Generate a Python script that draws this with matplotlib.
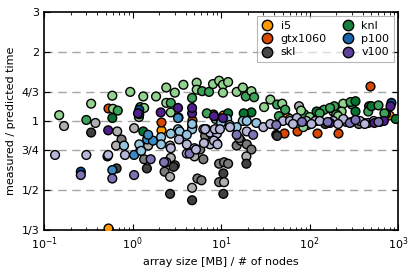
import matplotlib
matplotlib.use("Agg")
import matplotlib.pyplot as plt
from matplotlib.lines import Line2D
import numpy as np

# ---------------- data (array size [MB]/nodes, measured/predicted) ----------------
i5_x = [0.53, 2.08, 4.7, 8.0, 18.6, 55, 112, 200, 790, 3.3, 10.5]
i5_y = [0.34, 0.91, 0.95, 1.07, 1.06, 1.04, 1.01, 1.03, 1.06, 1.04, 1.06]

gtx_x = [0.53, 2.08, 4.7, 52, 72, 122, 207, 480]
gtx_y = [1.14, 0.99, 1.01, 0.89, 0.90, 0.89, 0.89, 1.42]

skl_x = [0.168, 0.38, 0.34, 0.67, 0.75, 0.65, 0.66, 1.04, 1.22, 1.35, 1.45, 1.5,
         2.3, 2.7, 3.0, 2.9, 2.65, 2.65, 5.0, 6.3, 5.4, 6.0, 4.7, 4.7,
         9.5, 10.8, 12.0, 10.6, 9.5, 10.8, 10.6, 15, 16.7, 19.5, 22, 19.3, 19.3,
         6.6, 8.9, 5.8, 42, 470, 730, 185, 410, 360, 225, 76, 2.65, 43, 16,
         95, 150, 260, 620]
skl_y = [0.95, 0.98, 0.89, 0.90, 0.83, 0.78, 0.62, 0.93, 0.74, 0.68, 0.62, 0.78,
         0.60, 0.69, 0.64, 0.63, 0.57, 0.48, 0.70, 0.68, 0.56, 0.55, 0.51, 0.45,
         0.65, 0.66, 0.65, 0.59, 0.54, 0.54, 0.48, 0.78, 0.82, 0.79, 0.75, 0.70, 0.65,
         0.86, 0.80, 0.75, 0.87, 1.16, 1.07, 1.10, 0.98, 0.97, 1.00, 1.16, 0.78, 0.86, 0.84,
         0.96, 0.97, 0.99, 0.99]
skl_shade = [0.42, 0.42, 0.8, 0.42, 0.6, 0.42, 0.8, 0.42, 0.42, 0.6, 0.8, 0.42,
             0.6, 0.42, 0.6, 0.8, 0.42, 0.8, 0.42, 0.6, 0.6, 0.6, 0.42, 0.8,
             0.6, 0.6, 0.6, 0.8, 0.6, 0.42, 0.8, 0.6, 0.42, 0.6, 0.6, 0.42, 0.8,
             0.6, 0.8, 0.6, 0.8, 0.8, 0.8, 0.42, 0.42, 0.6, 0.6, 0.42, 0.42, 0.8, 0.6,
             0.6, 0.8, 0.6, 0.6]

knl_x = [0.148, 0.30, 0.34, 0.59, 0.60, 0.68, 0.59, 0.94, 1.22, 1.32, 1.35, 1.32,
         1.18, 1.84, 2.4, 2.4, 2.7, 2.7, 3.0, 3.75, 4.7, 5.3, 5.3, 6.1, 7.3, 8.1,
         9.5, 10.5, 12.0, 10.5, 15, 17.6, 19, 22, 23.6, 22, 30.6, 36, 43, 49, 53,
         87, 80, 135, 146, 240, 300, 330, 230, 200, 460, 500, 600, 940, 290, 330,
         190, 170, 120, 210, 18, 12, 6.9, 85, 100, 130, 60, 45, 700]
knl_y = [1.06, 1.01, 1.19, 1.29, 1.13, 1.11, 1.03, 1.34, 1.15, 1.28, 1.14, 0.90,
         1.04, 1.28, 1.40, 1.20, 1.20, 1.09, 1.33, 1.44, 1.26, 1.47, 1.37, 1.35, 1.34, 1.45,
         1.50, 1.44, 1.48, 1.33, 1.34, 1.40, 1.28, 1.35, 1.27, 1.09, 1.15, 1.24, 1.18, 1.19, 1.12,
         1.07, 1.11, 1.10, 1.12, 1.19, 1.18, 1.10, 1.10, 1.07, 1.10, 1.16, 1.17, 1.02, 1.21, 1.22,
         1.16, 1.14, 1.10, 1.05, 1.08, 1.08, 1.08, 0.94, 1.04, 1.08, 1.02, 1.05, 1.08]
knl_shade = [0.42, 0.65, 0.42, 0.42, 0.42, 0.65, 0.85, 0.42, 0.65, 0.42, 0.42, 0.85,
             0.42, 0.42, 0.42, 0.42, 0.65, 0.42, 0.42, 0.42, 0.65, 0.42, 0.42, 0.65, 0.65, 0.42,
             0.42, 0.42, 0.42, 0.42, 0.42, 0.42, 0.65, 0.42, 0.65, 0.85, 0.42, 0.42, 0.65, 0.42, 0.65,
             0.65, 0.42, 0.85, 0.65, 0.42, 0.65, 0.85, 0.42, 0.65, 0.65, 0.85, 0.65, 0.85, 0.65, 0.85,
             0.65, 0.65, 0.85, 0.42, 0.85, 0.85, 0.65, 0.42, 0.42, 0.65, 0.42, 0.65, 0.65]

p100_x = [0.26, 0.52, 0.59, 0.80, 1.19, 1.19, 1.04, 1.46, 1.7, 1.25, 2.1, 2.1,
          3.26, 3.26, 4.7, 4.7, 8.7, 9.9, 11.7, 17.6, 19.5, 2.7, 3.4, 4.1, 6.8, 7.7,
          10.0, 12.5, 15.0, 25, 840, 1.19, 1.5, 120, 300]
p100_y = [0.60, 0.70, 0.61, 0.78, 0.79, 1.12, 0.71, 0.83, 0.82, 0.74, 0.85, 0.79,
          1.03, 0.92, 0.92, 0.97, 1.02, 1.00, 1.02, 1.00, 1.00, 0.88, 0.90, 0.87, 0.92, 0.88,
          0.98, 0.96, 0.94, 0.98, 1.20, 1.07, 0.87, 1.00, 0.99]
p100_shade = [0.9, 0.9, 0.65, 0.4, 0.4, 0.9, 0.65, 0.65, 0.65, 0.4, 0.4, 0.4,
              0.65, 0.4, 0.4, 0.4, 0.4, 0.4, 0.4, 0.4, 0.4, 0.4, 0.4, 0.4, 0.4, 0.4,
              0.4, 0.4, 0.4, 0.4, 0.9, 0.9, 0.65, 0.4, 0.4]

v100_x = [0.133, 0.30, 0.53, 0.82, 0.53, 0.26, 0.59, 1.04, 1.15, 1.6, 2.08, 2.4,
          3.26, 4.7, 4.7, 8.3, 10.5, 3.35, 4.1, 5.0, 7.5, 7.5, 9.0, 4.1, 6.3, 8.5,
          6.6, 9.7, 12.6, 15, 19.5, 23, 30, 36, 50, 60, 72, 92, 116, 130, 185, 240,
          285, 370, 460, 530, 170, 540, 690, 820, 2.7, 4.4, 5.2, 6.4, 8.3, 9.1, 2.27,
          42, 65, 82, 105, 160, 210, 330, 420, 600]
v100_y = [0.71, 0.71, 0.71, 0.71, 0.91, 0.58, 0.56, 0.58, 1.08, 0.68, 1.09, 0.66,
          1.14, 1.08, 1.14, 1.05, 1.03, 0.83, 0.79, 0.76, 0.79, 0.89, 0.88, 0.72, 0.92, 0.92,
          0.92, 0.92, 0.94, 0.87, 0.90, 0.87, 0.94, 0.97, 1.00, 1.00, 1.03, 1.00, 1.00, 1.00, 1.00, 1.02,
          0.98, 1.00, 0.98, 1.00, 0.98, 0.98, 1.00, 1.16, 0.76, 0.72, 0.75, 0.80, 0.82, 0.79, 0.66,
          0.96, 0.97, 0.99, 0.97, 0.99, 0.97, 1.01, 0.97, 0.99]
v100_shade = [0.4, 0.4, 0.4, 0.4, 0.9, 0.65, 0.65, 0.65, 0.9, 0.65, 0.9, 0.65,
              0.9, 0.9, 0.9, 0.9, 0.9, 0.4, 0.4, 0.4, 0.4, 0.4, 0.4, 0.4, 0.4, 0.4,
              0.4, 0.4, 0.4, 0.65, 0.4, 0.65, 0.4, 0.4, 0.4, 0.4, 0.4, 0.4, 0.4, 0.4, 0.4, 0.4,
              0.65, 0.4, 0.65, 0.4, 0.9, 0.9, 0.9, 0.9, 0.4, 0.65, 0.4, 0.4, 0.4, 0.4, 0.65,
              0.65, 0.4, 0.65, 0.4, 0.65, 0.4, 0.65, 0.4, 0.65]

yticks = [1/3, 1/2, 3/4, 1, 4/3, 2, 3]
ytick_labels = ["1/3", "1/2", "3/4", "1", "4/3", "2", "3"]
devices = ["i5", "gtx1060", "skl", "knl", "p100", "v100"]

# ---------------- plot ----------------
fig = plt.figure(figsize=(4.16, 2.70), dpi=100)
ax = fig.add_axes([0.106, 0.148, 0.851, 0.808])

i5_color = "#ff9900"
gtx_color = "#d94801"
leg_colors = {
    "i5": i5_color,
    "gtx1060": gtx_color,
    "skl": plt.cm.Greys(0.78),
    "knl": plt.cm.Greens(0.8),
    "p100": plt.cm.Blues(0.8),
    "v100": plt.cm.Purples(0.8),
}

for yv in [1/2, 3/4, 1, 4/3, 2]:
    ax.axhline(yv, color="#a6a6a6", lw=1.0, dashes=(6, 4), zorder=1)

kw = dict(s=40, edgecolors="black", linewidths=1.0, zorder=3)
ax.scatter(i5_x, i5_y, c=i5_color, **kw)
ax.scatter(gtx_x, gtx_y, c=gtx_color, **kw)
ax.scatter(skl_x, skl_y, c=plt.cm.Greys(np.array(skl_shade)), **kw)
ax.scatter(knl_x, knl_y, c=plt.cm.Greens(np.array(knl_shade)), **kw)
ax.scatter(p100_x, p100_y, c=plt.cm.Blues(np.array(p100_shade)), **kw)
ax.scatter(v100_x, v100_y, c=plt.cm.Purples(np.array(v100_shade)), **kw)

ax.set_xscale("log")
ax.set_yscale("log")
ax.set_xlim(0.1, 1000)
ax.set_ylim(1/3, 3)
ax.set_yticks(yticks)
ax.set_yticklabels(ytick_labels)
ax.yaxis.set_minor_locator(matplotlib.ticker.NullLocator())
ax.tick_params(which="both", direction="in", top=True, right=True, labelsize=8)
ax.tick_params(which="major", length=4)
ax.tick_params(which="minor", length=2)
for sp in ax.spines.values():
    sp.set_linewidth(1.2)

ax.set_xlabel("array size [MB] / # of nodes", fontsize=8)
ax.set_ylabel("measured / predicted time", fontsize=8)

handles = [Line2D([], [], marker="o", ls="", markersize=7.5, markerfacecolor=leg_colors[d],
                  markeredgecolor="black", markeredgewidth=1.0, label=d) for d in devices]
leg = ax.legend(handles=handles, ncol=2, loc="upper right", fontsize=8,
                framealpha=0.6, fancybox=False, edgecolor="#888888",
                borderaxespad=0.4, handletextpad=0.7, columnspacing=1.4,
                labelspacing=0.3, handlelength=1.0)
leg.get_frame().set_linewidth(0.8)

fig.savefig("out.png", dpi=100)
